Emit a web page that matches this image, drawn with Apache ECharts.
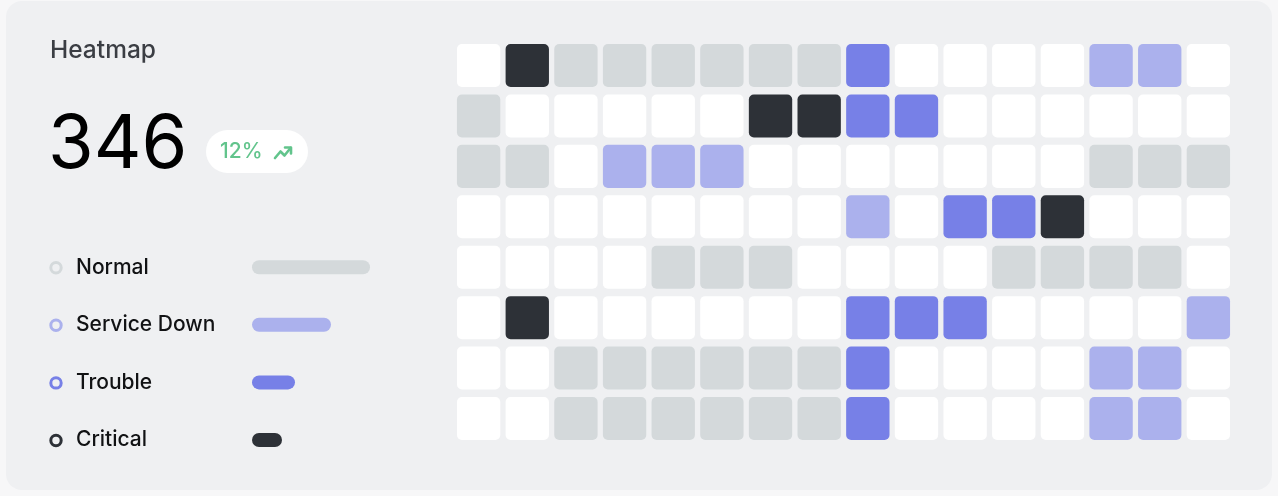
<!DOCTYPE html>
<html>
<head>
<meta charset="utf-8">
<script src="https://cdn.jsdelivr.net/npm/echarts@6/dist/echarts.min.js"></script>
<style>
html,body{margin:0;padding:0;background:#f7f7f8;}
#c{width:1278px;height:496px;}
</style>
</head>
<body>
<div id="c"></div>
<script>
// ---- data ----
var title = 'Heatmap';
var total = '346';
var change = '12%';
var statusNames = ['Normal', 'Service Down', 'Trouble', 'Critical'];
var statusColors = ['#d4d9db', '#abb1ed', '#7780e7', '#2d3137'];
var statusBarValues = [118, 79, 43, 30];
var columns = ['1','2','3','4','5','6','7','8','9','10','11','12','13','14','15','16'];
var rows = ['1','2','3','4','5','6','7','8'];
// 0 = empty, 1 = Normal, 2 = Service Down, 3 = Trouble, 4 = Critical
var row1 = [0,4,1,1,1,1,1,1,3,0,0,0,0,2,2,0];
var row2 = [1,0,0,0,0,0,4,4,3,3,0,0,0,0,0,0];
var row3 = [1,1,0,2,2,2,0,0,0,0,0,0,0,1,1,1];
var row4 = [0,0,0,0,0,0,0,0,2,0,3,3,4,0,0,0];
var row5 = [0,0,0,0,1,1,1,0,0,0,0,1,1,1,1,0];
var row6 = [0,4,0,0,0,0,0,0,3,3,3,0,0,0,0,2];
var row7 = [0,0,1,1,1,1,1,1,3,0,0,0,0,2,2,0];
var row8 = [0,0,1,1,1,1,1,1,3,0,0,0,0,2,2,0];

var grid = [row1,row2,row3,row4,row5,row6,row7,row8];
var cellColors = ['#ffffff'].concat(statusColors);
var heatData = [];
grid.forEach(function (r, yi) {
  r.forEach(function (v, xi) { heatData.push([xi, yi, v]); });
});

var chart = echarts.init(document.getElementById('c'), null, {renderer: 'canvas'});
var FONT = 'Inter, "Noto Sans", sans-serif';

chart.setOption({
  backgroundColor: '#f7f7f8',
  animation: false,
  grid: [
    {left: 454.3, top: 40.3, width: 778.4, height: 403.4},
    {left: 252, top: 238.4, width: 118, height: 230.4}
  ],
  xAxis: [
    {type: 'category', gridIndex: 0, data: columns, show: false},
    {type: 'value', gridIndex: 1, min: 0, max: 118, show: false}
  ],
  yAxis: [
    {type: 'category', gridIndex: 0, data: rows, inverse: true, show: false},
    {type: 'category', gridIndex: 1, data: statusNames, inverse: true,
     axisLine: {show: false}, axisTick: {show: false}, splitLine: {show: false},
     axisLabel: {
       align: 'left', margin: 176,
       fontFamily: FONT, fontSize: 21, fontWeight: 500, color: '#111214'
     }}
  ],
  series: [
    {
      type: 'custom', xAxisIndex: 0, yAxisIndex: 0,
      data: heatData,
      renderItem: function (params, api) {
        var c = api.coord([api.value(0), api.value(1)]);
        var s = api.size([1, 1]);
        var w = s[0] - 5.3, h = s[1] - 7.4;
        return {
          type: 'rect',
          shape: {x: c[0] - w / 2, y: c[1] - h / 2, width: w, height: h, r: 5},
          style: {fill: cellColors[api.value(2)]}
        };
      }
    },
    {
      type: 'bar', xAxisIndex: 1, yAxisIndex: 1, barWidth: 14,
      data: statusBarValues.map(function (v, i) {
        return {value: v, itemStyle: {color: statusColors[i], borderRadius: 7}};
      })
    }
  ]
});

// legend rings, placed on the status axis
var rings = statusNames.map(function (name, i) {
  var y = chart.convertToPixel({yAxisIndex: 1}, name);
  return {type: 'circle', shape: {cx: 56, cy: y + 0.5, r: 5.2},
          style: {fill: 'transparent', stroke: statusColors[i], lineWidth: 3}};
});

chart.setOption({
  graphic: [
    {type: 'rect', z: -10, shape: {x: 6, y: 1, width: 1266, height: 489, r: 16}, style: {fill: '#eff0f2'}},
    {type: 'text', x: 50, y: 51, style: {text: title, font: '500 24.5px ' + FONT, fill: '#3b3e44', verticalAlign: 'middle'}},
    {type: 'text', x: 48, y: 146, style: {text: total, font: '400 74px ' + FONT, fill: '#000000', verticalAlign: 'middle'}},
    {type: 'rect', shape: {x: 206, y: 130, width: 102, height: 43, r: 21.5}, style: {fill: '#ffffff'}},
    {type: 'text', x: 220, y: 152, style: {text: change, font: '500 21px ' + FONT, fill: '#62c48c', verticalAlign: 'middle'}},
    {type: 'polyline', shape: {points: [[275, 158], [280.5, 151.5], [284.5, 155.5], [290.5, 148]]}, style: {stroke: '#62c48c', lineWidth: 2.6, fill: null, lineJoin: 'round', lineCap: 'round'}},
    {type: 'polyline', shape: {points: [[285, 147.5], [291, 147.5], [291, 153.5]]}, style: {stroke: '#62c48c', lineWidth: 2.6, fill: null, lineJoin: 'round', lineCap: 'round'}},
    {type: 'group', children: rings}
  ]
});
</script>
</body>
</html>
